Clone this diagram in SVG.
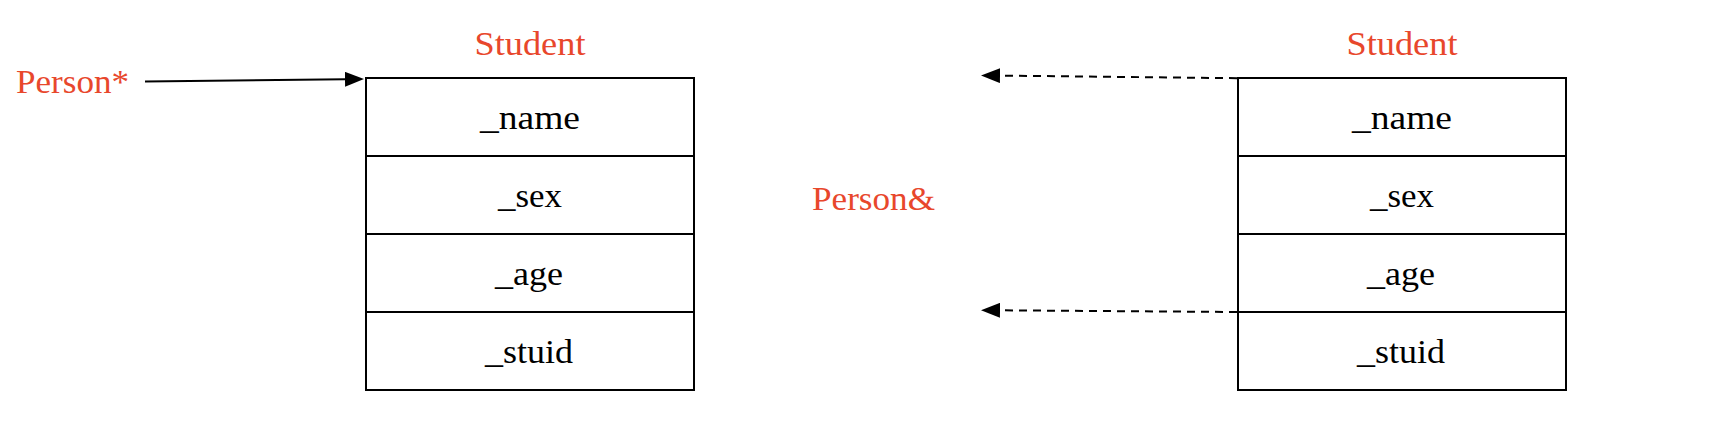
<svg xmlns="http://www.w3.org/2000/svg" width="1714" height="444" viewBox="0 0 1714 444">
<style>
.box{fill:#fff;stroke:#000;stroke-width:2}
.sep{stroke:#000;stroke-width:2}
.field{font-family:"Liberation Serif",serif;font-size:34px;fill:#000;text-anchor:middle}
.red{font-family:"Liberation Serif",serif;font-size:33px;fill:#E8472C}
.mid{text-anchor:middle}
.conn{fill:none;stroke:#000;stroke-width:2}
.dash{stroke-dasharray:8 6}
</style>
<defs>
<marker id="ah" markerUnits="userSpaceOnUse" markerWidth="19" markerHeight="15" refX="0" refY="7.5" orient="auto">
<path d="M0,0 L19,7.5 L0,15 z" fill="#000"/>
</marker>
</defs>
<rect width="1714" height="444" fill="#fff"/>
<g id="label-person-ptr">
<text class="red" x="16" y="93" textLength="113" lengthAdjust="spacingAndGlyphs">Person*</text>
</g>
<g id="label-person-ref">
<text class="red" x="812" y="210" textLength="123" lengthAdjust="spacingAndGlyphs">Person&amp;</text>
</g>
<g id="student-left">
<text class="red mid" x="530" y="55" textLength="111" lengthAdjust="spacingAndGlyphs">Student</text>
<rect class="box" x="366" y="78" width="328" height="312"/>
<line class="sep" x1="366" y1="156" x2="694" y2="156"/>
<line class="sep" x1="366" y1="234" x2="694" y2="234"/>
<line class="sep" x1="366" y1="312" x2="694" y2="312"/>
<text class="field" x="530" y="129" textLength="100" lengthAdjust="spacingAndGlyphs">_name</text>
<text class="field" x="530" y="207" textLength="64" lengthAdjust="spacingAndGlyphs">_sex</text>
<text class="field" x="529" y="285" textLength="68" lengthAdjust="spacingAndGlyphs">_age</text>
<text class="field" x="529" y="363" textLength="88" lengthAdjust="spacingAndGlyphs">_stuid</text>
</g>
<g id="student-right">
<text class="red mid" x="1402" y="55" textLength="111" lengthAdjust="spacingAndGlyphs">Student</text>
<rect class="box" x="1238" y="78" width="328" height="312"/>
<line class="sep" x1="1238" y1="156" x2="1566" y2="156"/>
<line class="sep" x1="1238" y1="234" x2="1566" y2="234"/>
<line class="sep" x1="1238" y1="312" x2="1566" y2="312"/>
<text class="field" x="1402" y="129" textLength="100" lengthAdjust="spacingAndGlyphs">_name</text>
<text class="field" x="1402" y="207" textLength="64" lengthAdjust="spacingAndGlyphs">_sex</text>
<text class="field" x="1401" y="285" textLength="68" lengthAdjust="spacingAndGlyphs">_age</text>
<text class="field" x="1401" y="363" textLength="88" lengthAdjust="spacingAndGlyphs">_stuid</text>
</g>
<g id="connectors">
<path class="conn" d="M145,81.5 L345,79.3" marker-end="url(#ah)"/>
<path class="conn dash" d="M1237,78.2 L1000,75.6" marker-end="url(#ah)"/>
<path class="conn dash" d="M1237,312 L1000,310.3" marker-end="url(#ah)"/>
</g>
</svg>
